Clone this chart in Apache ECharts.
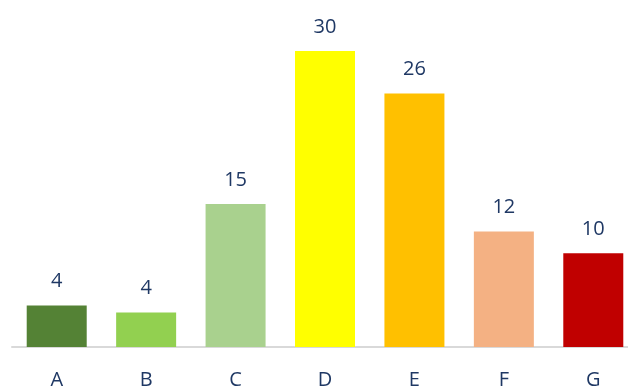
<!DOCTYPE html>
<html>
<head>
<meta charset="utf-8">
<script src="https://cdn.jsdelivr.net/npm/echarts@6/dist/echarts.min.js"></script>
<style>html,body{margin:0;padding:0;background:#fff}#c{width:628px;height:386px}</style>
</head>
<body>
<div id="c"></div>
<script>
const categories = ['A', 'B', 'C', 'D', 'E', 'F', 'G'];
const values = [4.2, 3.5, 14.5, 30, 25.7, 11.7, 9.5];
const valueLabels = ['4', '4', '15', '30', '26', '12', '10'];
const colors = ['#548235', '#92D050', '#A9D18E', '#FFFF00', '#FFC000', '#F4B183', '#C00000'];

const chart = echarts.init(document.getElementById('c'));
chart.setOption({
  animation: false,
  grid: { left: 12, top: 51, bottom: 39, right: -10, outerBoundsMode: 'none', containLabel: false },
  xAxis: {
    type: 'category',
    data: categories,
    axisLine: { lineStyle: { color: '#d9d9d9', width: 2 } },
    axisTick: { show: false },
    axisLabel: { color: '#1F3864', fontSize: 20, fontFamily: 'Open Sans', margin: 23 }
  },
  yAxis: {
    type: 'value', min: 0, max: 30,
    show: false,
    splitLine: { show: false }
  },
  series: [{
    type: 'bar',
    barWidth: 60,
    data: values.map((v, i) => ({ value: v, itemStyle: { color: colors[i] } })),
    label: {
      show: true,
      position: 'top',
      distance: 14,
      color: '#1F3864',
      fontSize: 20,
      fontFamily: 'Open Sans',
      formatter: p => valueLabels[p.dataIndex]
    }
  }]
});
</script>
</body>
</html>
